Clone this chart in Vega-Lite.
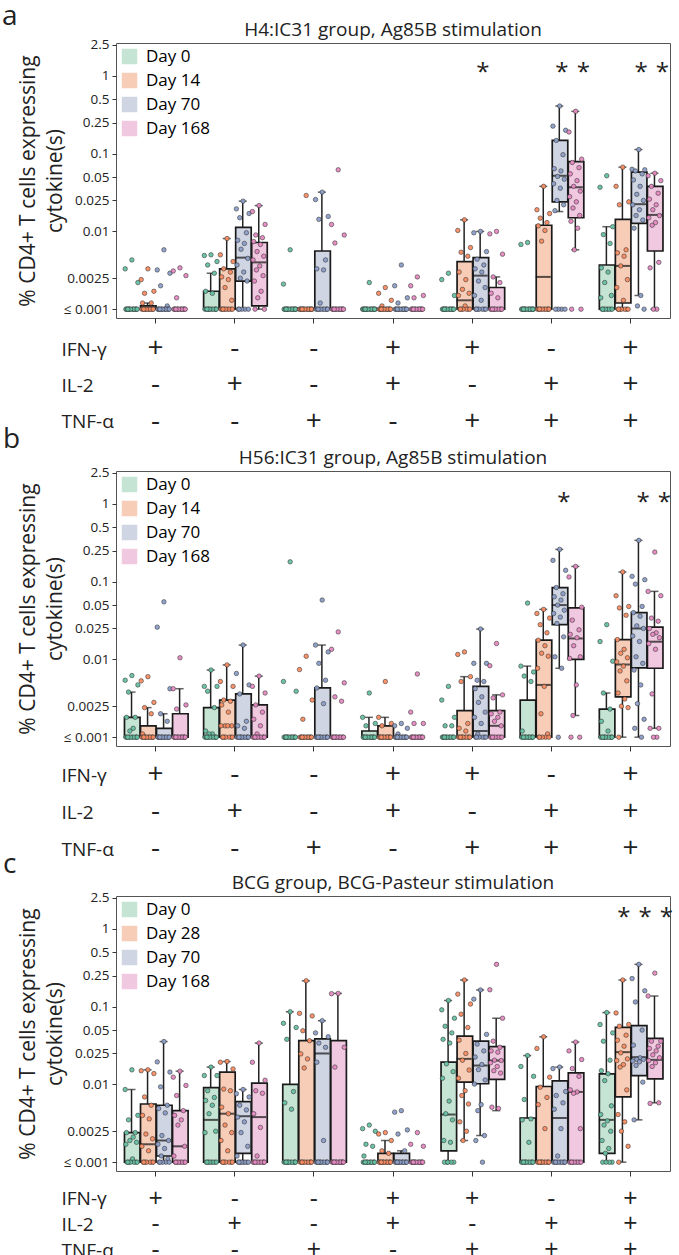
{
"$schema":"https://vega.github.io/schema/vega-lite/v6.json",
"padding":{"left":2,"top":3,"right":4,"bottom":0},
"title":{"text":"a","anchor":"start","frame":"bounds","fontSize":28,"fontWeight":"normal","offset":-11,"dx":-1,"color":"#222"},
"config":{"font":"Open Sans","view":{"stroke":"#555","strokeWidth":1},"axis":{"labelColor":"#222","titleColor":"#222","tickColor":"#333","grid":false},"title":{"color":"#222"}},
"datasets":{
"keys":[
{"d":"Day 0","k":[12,2,21,7,17,4,14,9,19,3,13,8,18,5,15,10,20,6,16,11]},
{"d":"Day 14","k":[36,26,45,31,41,28,38,33,43,27,37,32,42,29,39,34,44,30,40,35]},
{"d":"Day 28","k":[36,26,45,31,41,28,38,33,43,27,37,32,42,29,39,34,44,30,40,35]},
{"d":"Day 70","k":[60,50,69,55,65,52,62,57,67,51,61,56,66,53,63,58,68,54,64,59]},
{"d":"Day 168","k":[84,74,93,79,89,76,86,81,91,75,85,80,90,77,87,82,92,78,88,83]}
],
"tbl":[
{"c":1,"r":"IFN-γ","s":"+"},{"c":1,"r":"IL-2","s":"-"},{"c":1,"r":"TNF-α","s":"-"},
{"c":2,"r":"IFN-γ","s":"-"},{"c":2,"r":"IL-2","s":"+"},{"c":2,"r":"TNF-α","s":"-"},
{"c":3,"r":"IFN-γ","s":"-"},{"c":3,"r":"IL-2","s":"-"},{"c":3,"r":"TNF-α","s":"+"},
{"c":4,"r":"IFN-γ","s":"+"},{"c":4,"r":"IL-2","s":"+"},{"c":4,"r":"TNF-α","s":"-"},
{"c":5,"r":"IFN-γ","s":"+"},{"c":5,"r":"IL-2","s":"-"},{"c":5,"r":"TNF-α","s":"+"},
{"c":6,"r":"IFN-γ","s":"-"},{"c":6,"r":"IL-2","s":"+"},{"c":6,"r":"TNF-α","s":"+"},
{"c":7,"r":"IFN-γ","s":"+"},{"c":7,"r":"IL-2","s":"+"},{"c":7,"r":"TNF-α","s":"+"}
],
"sig":[
{"p":"a","c":5,"d":"Day 70","v":1.08,"s":"*"},{"p":"a","c":6,"d":"Day 70","v":1.08,"s":"*"},{"p":"a","c":6,"d":"Day 168","v":1.08,"s":"*"},{"p":"a","c":7,"d":"Day 70","v":1.08,"s":"*"},{"p":"a","c":7,"d":"Day 168","v":1.08,"s":"*"},
{"p":"b","c":6,"d":"Day 70","v":1.02,"s":"*"},{"p":"b","c":7,"d":"Day 70","v":1.02,"s":"*"},{"p":"b","c":7,"d":"Day 168","v":1.02,"s":"*"},
{"p":"c","c":7,"d":"Day 28","v":1.38,"s":"*"},{"p":"c","c":7,"d":"Day 70","v":1.38,"s":"*"},{"p":"c","c":7,"d":"Day 168","v":1.38,"s":"*"}
],
"ab":[
{"c":1,"d":"Day 14","lo":0.001,"q1":0.001,"md":0.001,"q3":0.0011,"hi":0.0012},
{"c":2,"d":"Day 0","lo":0.001,"q1":0.001,"md":0.001,"q3":0.0017,"hi":0.0029},
{"c":2,"d":"Day 14","lo":0.001,"q1":0.001,"md":0.001,"q3":0.0033,"hi":0.0081},
{"c":2,"d":"Day 70","lo":0.001,"q1":0.0023,"md":0.0046,"q3":0.0113,"hi":0.0245},
{"c":2,"d":"Day 168","lo":0.001,"q1":0.0011,"md":0.004,"q3":0.0072,"hi":0.0215},
{"c":3,"d":"Day 70","lo":0.001,"q1":0.001,"md":0.001,"q3":0.0056,"hi":0.032},
{"c":5,"d":"Day 14","lo":0.001,"q1":0.001,"md":0.0013,"q3":0.0041,"hi":0.0141},
{"c":5,"d":"Day 70","lo":0.001,"q1":0.001,"md":0.0027,"q3":0.0046,"hi":0.01},
{"c":5,"d":"Day 168","lo":0.001,"q1":0.001,"md":0.001,"q3":0.0019,"hi":0.0026},
{"c":6,"d":"Day 14","lo":0.001,"q1":0.001,"md":0.0026,"q3":0.012,"hi":0.038},
{"c":6,"d":"Day 70","lo":0.018,"q1":0.024,"md":0.052,"q3":0.148,"hi":0.41},
{"c":6,"d":"Day 168","lo":0.0058,"q1":0.015,"md":0.037,"q3":0.079,"hi":0.35},
{"c":7,"d":"Day 0","lo":0.001,"q1":0.001,"md":0.001,"q3":0.0037,"hi":0.0115},
{"c":7,"d":"Day 14","lo":0.001,"q1":0.0012,"md":0.0036,"q3":0.0143,"hi":0.067},
{"c":7,"d":"Day 70","lo":0.0015,"q1":0.0127,"md":0.0224,"q3":0.058,"hi":0.113},
{"c":7,"d":"Day 168","lo":0.001,"q1":0.0056,"md":0.0163,"q3":0.038,"hi":0.056}
],
"ap":[
{"c":1,"d":"Day 0","v":[0.0043,0.0033,0.0022,0.001,0.001,0.001,0.001,0.001,0.001,0.001,0.001,0.001,0.001,0.001,0.001,0.001,0.001,0.001]},
{"c":1,"d":"Day 14","v":[0.0033,0.0024,0.0017,0.0016,0.0012,0.0012,0.001,0.001,0.001,0.001,0.001,0.001,0.001,0.001,0.001,0.001,0.001,0.001]},
{"c":1,"d":"Day 70","v":[0.0058,0.0032,0.0029,0.002,0.0011,0.001,0.001,0.001,0.001,0.001,0.001,0.001,0.001,0.001,0.001,0.001,0.001,0.001]},
{"c":1,"d":"Day 168","v":[0.0034,0.0031,0.0027,0.0014,0.001,0.001,0.001,0.001,0.001,0.001,0.001,0.001,0.001,0.001,0.001,0.001,0.001,0.001]},
{"c":2,"d":"Day 0","v":[0.005,0.0049,0.0041,0.0037,0.0029,0.0017,0.0016,0.001,0.001,0.001,0.001,0.001,0.001,0.001,0.001,0.001,0.001,0.001]},
{"c":2,"d":"Day 14","v":[0.0081,0.005,0.0041,0.0033,0.003,0.0026,0.0024,0.0019,0.0013,0.001,0.001,0.001,0.001,0.001,0.001,0.001,0.001,0.001]},
{"c":2,"d":"Day 70","v":[0.0245,0.0195,0.017,0.015,0.0096,0.0077,0.007,0.0059,0.0045,0.0037,0.003,0.0025,0.0023,0.001,0.001,0.001,0.001,0.001]},
{"c":2,"d":"Day 168","v":[0.0215,0.018,0.0123,0.009,0.0083,0.0074,0.0068,0.0055,0.0048,0.0043,0.0036,0.0032,0.0027,0.0023,0.0017,0.0014,0.001,0.001]},
{"c":3,"d":"Day 0","v":[0.0058,0.0021,0.001,0.001,0.001,0.001,0.001,0.001,0.001,0.001,0.001,0.001,0.001,0.001,0.001,0.001,0.001,0.001]},
{"c":3,"d":"Day 14","v":[0.029,0.001,0.001,0.001,0.001,0.001,0.001,0.001,0.001,0.001,0.001,0.001,0.001,0.001,0.001,0.001,0.001,0.001]},
{"c":3,"d":"Day 70","v":[0.032,0.0257,0.0156,0.0143,0.0043,0.0033,0.0032,0.0012,0.001,0.001,0.001,0.001,0.001,0.001,0.001,0.001,0.001,0.001]},
{"c":3,"d":"Day 168","v":[0.062,0.0123,0.009,0.0071,0.001,0.001,0.001,0.001,0.001,0.001,0.001,0.001,0.001,0.001,0.001,0.001,0.001,0.001]},
{"c":4,"d":"Day 0","v":[0.0022,0.001,0.001,0.001,0.001,0.001,0.001,0.001,0.001,0.001,0.001,0.001,0.001,0.001,0.001,0.001,0.001,0.001]},
{"c":4,"d":"Day 14","v":[0.0019,0.0016,0.0013,0.0011,0.001,0.001,0.001,0.001,0.001,0.001,0.001,0.001,0.001,0.001,0.001,0.001,0.001,0.001]},
{"c":4,"d":"Day 70","v":[0.0037,0.002,0.0014,0.0012,0.001,0.001,0.001,0.001,0.001,0.001,0.001,0.001,0.001,0.001,0.001,0.001,0.001,0.001]},
{"c":4,"d":"Day 168","v":[0.0026,0.002,0.0015,0.0014,0.001,0.001,0.001,0.001,0.001,0.001,0.001,0.001,0.001,0.001,0.001,0.001,0.001,0.001]},
{"c":5,"d":"Day 0","v":[0.0029,0.0024,0.0015,0.001,0.001,0.001,0.001,0.001,0.001,0.001,0.001,0.001,0.001,0.001,0.001,0.001,0.001,0.001]},
{"c":5,"d":"Day 14","v":[0.0141,0.0103,0.0062,0.0054,0.0048,0.003,0.0024,0.0018,0.0016,0.0015,0.0011,0.001,0.001,0.001,0.001,0.001,0.001,0.001]},
{"c":5,"d":"Day 70","v":[0.01,0.0096,0.0055,0.0044,0.0037,0.0033,0.003,0.0023,0.0019,0.0015,0.0013,0.001,0.001,0.001,0.001,0.001,0.001,0.001]},
{"c":5,"d":"Day 168","v":[0.01,0.0093,0.0051,0.0026,0.0022,0.0016,0.0014,0.001,0.001,0.001,0.001,0.001,0.001,0.001,0.001,0.001,0.001,0.001]},
{"c":6,"d":"Day 0","v":[0.0072,0.0068,0.001,0.001,0.001,0.001,0.001,0.001,0.001,0.001,0.001,0.001,0.001,0.001,0.001,0.001,0.001,0.001]},
{"c":6,"d":"Day 14","v":[0.038,0.019,0.017,0.0148,0.013,0.0118,0.0103,0.0075,0.001,0.001,0.001,0.001,0.001,0.001,0.001,0.001,0.001,0.001]},
{"c":6,"d":"Day 70","v":[0.41,0.226,0.2,0.148,0.097,0.064,0.06,0.051,0.047,0.041,0.036,0.025,0.022,0.0185,0.001,0.001,0.001,0.001]},
{"c":6,"d":"Day 168","v":[0.35,0.19,0.085,0.077,0.066,0.055,0.045,0.038,0.033,0.028,0.024,0.02,0.016,0.0135,0.011,0.0058,0.001,0.001]},
{"c":7,"d":"Day 0","v":[0.052,0.037,0.0115,0.0091,0.007,0.0034,0.003,0.0022,0.0015,0.0014,0.001,0.001,0.001,0.001,0.001,0.001,0.001,0.001]},
{"c":7,"d":"Day 14","v":[0.067,0.038,0.024,0.022,0.0058,0.0053,0.0048,0.0036,0.0024,0.0019,0.0013,0.001,0.001,0.001,0.001,0.001,0.001,0.001]},
{"c":7,"d":"Day 70","v":[0.113,0.063,0.062,0.06,0.055,0.046,0.038,0.03,0.025,0.022,0.019,0.016,0.014,0.011,0.0015,0.0011,0.001]},
{"c":7,"d":"Day 168","v":[0.056,0.052,0.045,0.038,0.031,0.026,0.022,0.019,0.016,0.015,0.013,0.012,0.004,0.0034,0.001,0.001]}
],
"bb":[
{"c":1,"d":"Day 0","lo":0.001,"q1":0.001,"md":0.001,"q3":0.0018,"hi":0.0038},
{"c":1,"d":"Day 14","lo":0.001,"q1":0.001,"md":0.001,"q3":0.0014,"hi":0.0024},
{"c":1,"d":"Day 70","lo":0.001,"q1":0.001,"md":0.001,"q3":0.0013,"hi":0.002},
{"c":1,"d":"Day 168","lo":0.001,"q1":0.001,"md":0.001,"q3":0.002,"hi":0.0042},
{"c":2,"d":"Day 0","lo":0.001,"q1":0.001,"md":0.001,"q3":0.0024,"hi":0.0073},
{"c":2,"d":"Day 14","lo":0.001,"q1":0.001,"md":0.0014,"q3":0.003,"hi":0.0085},
{"c":2,"d":"Day 70","lo":0.001,"q1":0.001,"md":0.001,"q3":0.0036,"hi":0.0153},
{"c":2,"d":"Day 168","lo":0.001,"q1":0.001,"md":0.001,"q3":0.0026,"hi":0.0061},
{"c":3,"d":"Day 70","lo":0.001,"q1":0.001,"md":0.001,"q3":0.0043,"hi":0.0153},
{"c":4,"d":"Day 0","lo":0.001,"q1":0.001,"md":0.001,"q3":0.0012,"hi":0.0018},
{"c":4,"d":"Day 14","lo":0.001,"q1":0.001,"md":0.001,"q3":0.0014,"hi":0.0018},
{"c":5,"d":"Day 14","lo":0.001,"q1":0.001,"md":0.001,"q3":0.0022,"hi":0.006},
{"c":5,"d":"Day 70","lo":0.001,"q1":0.001,"md":0.0012,"q3":0.0045,"hi":0.0246},
{"c":5,"d":"Day 168","lo":0.001,"q1":0.001,"md":0.0014,"q3":0.0022,"hi":0.0035},
{"c":6,"d":"Day 0","lo":0.001,"q1":0.001,"md":0.001,"q3":0.003,"hi":0.0082},
{"c":6,"d":"Day 14","lo":0.001,"q1":0.001,"md":0.0047,"q3":0.0177,"hi":0.044},
{"c":6,"d":"Day 70","lo":0.0077,"q1":0.028,"md":0.05,"q3":0.084,"hi":0.26},
{"c":6,"d":"Day 168","lo":0.0019,"q1":0.01,"md":0.0186,"q3":0.046,"hi":0.157},
{"c":7,"d":"Day 0","lo":0.001,"q1":0.001,"md":0.001,"q3":0.0023,"hi":0.0037},
{"c":7,"d":"Day 14","lo":0.001,"q1":0.0033,"md":0.0086,"q3":0.018,"hi":0.133},
{"c":7,"d":"Day 70","lo":0.001,"q1":0.0078,"md":0.025,"q3":0.04,"hi":0.34},
{"c":7,"d":"Day 168","lo":0.0013,"q1":0.0077,"md":0.0169,"q3":0.026,"hi":0.075}
],
"bp":[
{"c":1,"d":"Day 0","v":[0.0062,0.0054,0.0047,0.0038,0.0018,0.0018,0.0013,0.0012,0.001,0.001,0.001,0.001,0.001,0.001,0.001,0.001,0.001,0.001]},
{"c":1,"d":"Day 14","v":[0.006,0.0053,0.0028,0.0024,0.002,0.0011,0.001,0.001,0.001,0.001,0.001,0.001,0.001,0.001,0.001,0.001,0.001,0.001]},
{"c":1,"d":"Day 70","v":[0.055,0.026,0.0042,0.002,0.0016,0.001,0.001,0.001,0.001,0.001,0.001,0.001,0.001,0.001,0.001,0.001,0.001,0.001]},
{"c":1,"d":"Day 168","v":[0.0105,0.0042,0.0026,0.0023,0.001,0.001,0.001,0.001,0.001,0.001,0.001,0.001,0.001,0.001,0.001,0.001,0.001,0.001]},
{"c":2,"d":"Day 0","v":[0.0073,0.0045,0.0045,0.0039,0.0024,0.0012,0.0011,0.0011,0.001,0.001,0.001,0.001,0.001,0.001,0.001,0.001,0.001,0.001]},
{"c":2,"d":"Day 14","v":[0.0085,0.0052,0.0045,0.003,0.0029,0.0026,0.0021,0.0014,0.0014,0.0014,0.0014,0.001,0.001,0.001,0.001,0.001,0.001,0.001]},
{"c":2,"d":"Day 70","v":[0.0153,0.0066,0.0047,0.0036,0.0016,0.0014,0.0013,0.001,0.001,0.001,0.001,0.001,0.001,0.001,0.001,0.001,0.001,0.001]},
{"c":2,"d":"Day 168","v":[0.0061,0.0045,0.0037,0.0026,0.0021,0.0017,0.0014,0.0011,0.001,0.001,0.001,0.001,0.001,0.001,0.001,0.001,0.001,0.001]},
{"c":3,"d":"Day 0","v":[0.18,0.0052,0.0039,0.001,0.001,0.001,0.001,0.001,0.001,0.001,0.001,0.001,0.001,0.001,0.001,0.001,0.001,0.001]},
{"c":3,"d":"Day 14","v":[0.011,0.0074,0.003,0.0017,0.001,0.001,0.001,0.001,0.001,0.001,0.001,0.001,0.001,0.001,0.001,0.001,0.001,0.001]},
{"c":3,"d":"Day 70","v":[0.058,0.0153,0.0125,0.0089,0.0054,0.0043,0.0027,0.001,0.001,0.001,0.001,0.001,0.001,0.001,0.001,0.001,0.001,0.001]},
{"c":3,"d":"Day 168","v":[0.0226,0.0135,0.005,0.0033,0.0029,0.001,0.001,0.001,0.001,0.001,0.001,0.001,0.001,0.001,0.001,0.001,0.001,0.001]},
{"c":4,"d":"Day 0","v":[0.0037,0.0018,0.0015,0.0014,0.001,0.001,0.001,0.001,0.001,0.001,0.001,0.001,0.001,0.001,0.001,0.001,0.001,0.001]},
{"c":4,"d":"Day 14","v":[0.0052,0.0018,0.0015,0.0014,0.001,0.001,0.001,0.001,0.001,0.001,0.001,0.001,0.001,0.001,0.001,0.001,0.001,0.001]},
{"c":4,"d":"Day 70","v":[0.0015,0.0014,0.0013,0.0011,0.001,0.001,0.001,0.001,0.001,0.001,0.001,0.001,0.001,0.001,0.001,0.001,0.001,0.001]},
{"c":4,"d":"Day 168","v":[0.0065,0.0021,0.0015,0.0015,0.001,0.001,0.001,0.001,0.001,0.001,0.001,0.001,0.001,0.001,0.001,0.001,0.001,0.001]},
{"c":5,"d":"Day 0","v":[0.0045,0.003,0.0018,0.0014,0.0014,0.001,0.001,0.001,0.001,0.001,0.001,0.001,0.001,0.001,0.001,0.001,0.001,0.001]},
{"c":5,"d":"Day 14","v":[0.0125,0.0116,0.006,0.0052,0.0015,0.0013,0.0012,0.001,0.001,0.001,0.001,0.001,0.001,0.001,0.001,0.001,0.001,0.001]},
{"c":5,"d":"Day 70","v":[0.0246,0.0089,0.0089,0.0054,0.0052,0.0042,0.0033,0.0028,0.0021,0.0018,0.0015,0.0011,0.001,0.001,0.001,0.001,0.001,0.001]},
{"c":5,"d":"Day 168","v":[0.016,0.0083,0.0035,0.0032,0.0021,0.002,0.0018,0.0016,0.0014,0.001,0.001,0.001,0.001,0.001,0.001,0.001,0.001,0.001]},
{"c":6,"d":"Day 0","v":[0.053,0.0082,0.0069,0.0061,0.0052,0.0012,0.001,0.001,0.001,0.001,0.001,0.001,0.001,0.001,0.001,0.001,0.001,0.001]},
{"c":6,"d":"Day 14","v":[0.044,0.039,0.034,0.028,0.022,0.0177,0.015,0.012,0.011,0.0077,0.0045,0.002,0.0011,0.001,0.001,0.001,0.001,0.001]},
{"c":6,"d":"Day 70","v":[0.26,0.188,0.14,0.084,0.07,0.064,0.058,0.05,0.043,0.039,0.035,0.029,0.0195,0.0108,0.0077,0.001]},
{"c":6,"d":"Day 168","v":[0.157,0.115,0.047,0.032,0.024,0.021,0.019,0.015,0.0108,0.0103,0.0047,0.0019,0.001,0.001]},
{"c":7,"d":"Day 0","v":[0.028,0.017,0.0095,0.0037,0.0023,0.0016,0.0012,0.001,0.001,0.001,0.001,0.001,0.001,0.001,0.001,0.001,0.001,0.001]},
{"c":7,"d":"Day 14","v":[0.133,0.066,0.048,0.046,0.037,0.018,0.0135,0.012,0.0105,0.0093,0.0082,0.0071,0.0053,0.0037,0.0031,0.0025,0.0024,0.001]},
{"c":7,"d":"Day 70","v":[0.34,0.117,0.106,0.093,0.048,0.04,0.036,0.027,0.025,0.02,0.017,0.0108,0.0089,0.0073,0.0047,0.0027,0.0017,0.0013,0.001]},
{"c":7,"d":"Day 168","v":[0.24,0.075,0.066,0.034,0.031,0.025,0.022,0.021,0.019,0.016,0.0135,0.0036,0.0013,0.0013,0.001,0.001]}
],
"cb":[
{"c":1,"d":"Day 0","lo":0.001,"q1":0.001,"md":0.001,"q3":0.0024,"hi":0.0086},
{"c":1,"d":"Day 28","lo":0.001,"q1":0.001,"md":0.0017,"q3":0.0056,"hi":0.0154},
{"c":1,"d":"Day 70","lo":0.001,"q1":0.0012,"md":0.0019,"q3":0.0054,"hi":0.0356},
{"c":1,"d":"Day 168","lo":0.001,"q1":0.001,"md":0.0016,"q3":0.0046,"hi":0.0148},
{"c":2,"d":"Day 0","lo":0.001,"q1":0.001,"md":0.0035,"q3":0.0091,"hi":0.0167},
{"c":2,"d":"Day 28","lo":0.001,"q1":0.001,"md":0.0042,"q3":0.0144,"hi":0.0197},
{"c":2,"d":"Day 70","lo":0.001,"q1":0.0013,"md":0.0039,"q3":0.006,"hi":0.0086},
{"c":2,"d":"Day 168","lo":0.001,"q1":0.001,"md":0.0038,"q3":0.0104,"hi":0.034},
{"c":3,"d":"Day 0","lo":0.001,"q1":0.001,"md":0.001,"q3":0.01,"hi":0.086},
{"c":3,"d":"Day 28","lo":0.001,"q1":0.001,"md":0.001,"q3":0.0365,"hi":0.215},
{"c":3,"d":"Day 70","lo":0.001,"q1":0.001,"md":0.025,"q3":0.0385,"hi":0.066},
{"c":3,"d":"Day 168","lo":0.001,"q1":0.001,"md":0.001,"q3":0.0365,"hi":0.148},
{"c":4,"d":"Day 28","lo":0.001,"q1":0.001,"md":0.001,"q3":0.0013,"hi":0.0019},
{"c":4,"d":"Day 70","lo":0.001,"q1":0.001,"md":0.001,"q3":0.0013,"hi":0.0014},
{"c":5,"d":"Day 0","lo":0.001,"q1":0.0014,"md":0.0041,"q3":0.0193,"hi":0.12},
{"c":5,"d":"Day 28","lo":0.0019,"q1":0.0107,"md":0.0213,"q3":0.0417,"hi":0.22},
{"c":5,"d":"Day 70","lo":0.0022,"q1":0.0102,"md":0.0175,"q3":0.036,"hi":0.164},
{"c":5,"d":"Day 168","lo":0.0046,"q1":0.0116,"md":0.0203,"q3":0.0306,"hi":0.071},
{"c":6,"d":"Day 0","lo":0.001,"q1":0.001,"md":0.001,"q3":0.0037,"hi":0.0235},
{"c":6,"d":"Day 28","lo":0.001,"q1":0.001,"md":0.001,"q3":0.0094,"hi":0.041},
{"c":6,"d":"Day 70","lo":0.001,"q1":0.001,"md":0.0037,"q3":0.0111,"hi":0.0167},
{"c":6,"d":"Day 168","lo":0.001,"q1":0.001,"md":0.008,"q3":0.0141,"hi":0.035},
{"c":7,"d":"Day 0","lo":0.001,"q1":0.0013,"md":0.0035,"q3":0.0137,"hi":0.084},
{"c":7,"d":"Day 28","lo":0.001,"q1":0.0069,"md":0.026,"q3":0.054,"hi":0.22},
{"c":7,"d":"Day 70","lo":0.0035,"q1":0.013,"md":0.0224,"q3":0.057,"hi":0.35},
{"c":7,"d":"Day 168","lo":0.0058,"q1":0.0118,"md":0.0207,"q3":0.039,"hi":0.137}
],
"cp":[
{"c":1,"d":"Day 0","v":[0.0154,0.0086,0.004,0.0035,0.0024,0.0024,0.0021,0.0019,0.0018,0.0017,0.0011,0.001,0.001,0.001,0.001,0.001,0.001,0.001]},
{"c":1,"d":"Day 28","v":[0.0154,0.015,0.0138,0.0069,0.0054,0.004,0.0036,0.0023,0.002,0.0016,0.0014,0.001,0.001,0.001,0.001,0.001,0.001,0.001]},
{"c":1,"d":"Day 70","v":[0.0356,0.0195,0.0144,0.0093,0.0054,0.0049,0.0043,0.0022,0.0019,0.0017,0.0015,0.0012,0.0011,0.001,0.001,0.001,0.001,0.001]},
{"c":1,"d":"Day 168","v":[0.0148,0.0124,0.0097,0.0072,0.0046,0.004,0.0035,0.003,0.0016,0.0012,0.001,0.001,0.001,0.001,0.001,0.001,0.001,0.001]},
{"c":2,"d":"Day 0","v":[0.0167,0.013,0.013,0.0083,0.0068,0.0062,0.0054,0.0042,0.0025,0.0024,0.001,0.001,0.001,0.001,0.001,0.001,0.001,0.001]},
{"c":2,"d":"Day 28","v":[0.0197,0.0193,0.0158,0.0087,0.0083,0.0051,0.0042,0.003,0.0024,0.0019,0.0014,0.001,0.001,0.001,0.001,0.001,0.001,0.001]},
{"c":2,"d":"Day 70","v":[0.0086,0.0076,0.0069,0.0054,0.0047,0.0038,0.0033,0.0024,0.0016,0.0012,0.001,0.001,0.001,0.001,0.001,0.001,0.001,0.001]},
{"c":2,"d":"Day 168","v":[0.034,0.0193,0.0113,0.0083,0.0077,0.0042,0.0028,0.0012,0.001,0.001,0.001,0.001,0.001,0.001,0.001,0.001,0.001,0.001]},
{"c":3,"d":"Day 0","v":[0.086,0.061,0.054,0.038,0.0081,0.0058,0.0048,0.001,0.001,0.001,0.001,0.001,0.001,0.001,0.001,0.001,0.001,0.001]},
{"c":3,"d":"Day 28","v":[0.215,0.082,0.076,0.049,0.0365,0.0247,0.0213,0.0163,0.001,0.001,0.001,0.001,0.001,0.001,0.001,0.001,0.001,0.001]},
{"c":3,"d":"Day 70","v":[0.066,0.046,0.041,0.034,0.03,0.0193,0.0019,0.001,0.001,0.001,0.001,0.001,0.001,0.001,0.001,0.001,0.001,0.001]},
{"c":3,"d":"Day 168","v":[0.148,0.147,0.03,0.0167,0.001,0.001,0.001,0.001,0.001,0.001,0.001,0.001,0.001,0.001,0.001,0.001,0.001,0.001]},
{"c":4,"d":"Day 0","v":[0.003,0.0027,0.0025,0.0017,0.0016,0.0012,0.001,0.001,0.001,0.001,0.001,0.001,0.001,0.001,0.001,0.001,0.001,0.001]},
{"c":4,"d":"Day 28","v":[0.0024,0.0023,0.0019,0.0014,0.0013,0.001,0.001,0.001,0.001,0.001,0.001,0.001,0.001,0.001,0.001,0.001,0.001,0.001]},
{"c":4,"d":"Day 70","v":[0.0046,0.0044,0.0026,0.0023,0.0014,0.001,0.001,0.001,0.001,0.001,0.001,0.001,0.001,0.001,0.001,0.001,0.001,0.001]},
{"c":4,"d":"Day 168","v":[0.0024,0.0017,0.0016,0.001,0.001,0.001,0.001,0.001,0.001,0.001,0.001,0.001,0.001,0.001,0.001,0.001,0.001,0.001]},
{"c":5,"d":"Day 0","v":[0.12,0.091,0.071,0.056,0.046,0.038,0.034,0.0184,0.0146,0.012,0.0061,0.0042,0.0035,0.0019,0.0018,0.001,0.001,0.001,0.001,0.001]},
{"c":5,"d":"Day 28","v":[0.22,0.145,0.108,0.08,0.054,0.037,0.025,0.0205,0.0153,0.012,0.0083,0.0072,0.0056,0.0033,0.0025,0.0019]},
{"c":5,"d":"Day 70","v":[0.164,0.125,0.044,0.033,0.027,0.0225,0.018,0.0155,0.0114,0.0101,0.0055,0.0046,0.0022,0.0019,0.001]},
{"c":5,"d":"Day 168","v":[0.35,0.165,0.071,0.036,0.03,0.027,0.026,0.0205,0.0203,0.019,0.017,0.015,0.014,0.0051,0.0049]},
{"c":6,"d":"Day 0","v":[0.0235,0.017,0.0127,0.0064,0.0036,0.0035,0.0018,0.001,0.001,0.001,0.001,0.001,0.001,0.001,0.001,0.001,0.001,0.001]},
{"c":6,"d":"Day 28","v":[0.041,0.029,0.0124,0.0092,0.0068,0.0055,0.0027,0.001,0.001,0.001,0.001,0.001,0.001,0.001,0.001,0.001,0.001,0.001]},
{"c":6,"d":"Day 70","v":[0.0167,0.016,0.0081,0.0072,0.0058,0.0048,0.0027,0.0012,0.001,0.001,0.001,0.001,0.001,0.001,0.001,0.001,0.001,0.001]},
{"c":6,"d":"Day 168","v":[0.035,0.027,0.0209,0.016,0.0127,0.0085,0.008,0.0077,0.0027,0.001,0.001,0.001,0.001,0.001,0.001,0.001,0.001,0.001]},
{"c":7,"d":"Day 0","v":[0.084,0.059,0.046,0.036,0.0205,0.015,0.0137,0.0112,0.0053,0.0041,0.0034,0.003,0.0025,0.0019,0.0015,0.0013,0.001,0.001,0.001,0.001]},
{"c":7,"d":"Day 28","v":[0.22,0.083,0.059,0.056,0.043,0.037,0.031,0.0255,0.0213,0.0203,0.018,0.0167,0.0085,0.0041,0.0033,0.0025,0.0016,0.001]},
{"c":7,"d":"Day 70","v":[0.35,0.23,0.16,0.115,0.05,0.032,0.022,0.021,0.021,0.02,0.0195,0.0175,0.0107,0.0035]},
{"c":7,"d":"Day 168","v":[0.27,0.137,0.036,0.036,0.031,0.029,0.027,0.024,0.022,0.0203,0.019,0.017,0.0058,0.0057]}
]
},
"vconcat":[
  {"width":554,"height":275,
   "title":{"text":"H4:IC31 group, Ag85B stimulation","fontSize":19,"fontWeight":"normal","offset":-2},
   "layer":[
    {"data":{"name":"ab"},"mark":{"type":"rule","color":"#222","strokeWidth":1.5},
     "encoding":{"x":{"field":"c","type":"ordinal","scale":{"paddingInner":0.19,"paddingOuter":0.095},"axis":{"labels":false,"title":null,"domain":false,"tickSize":5,"tickColor":"#333"}},"xOffset":{"field":"d","type":"nominal","scale":{"domain":["Day 0","Day 14","Day 70","Day 168"],"paddingInner":0,"paddingOuter":0}},"y":{"field":"lo","type":"quantitative","scale":{"type":"log","domain":[0.00077,2.65],"nice":false},"axis":{"title":["% CD4+ T cells expressing","cytokine(s)"],"titleFontSize":21,"titleFontWeight":"normal","titleLineHeight":27,"titlePadding":-2,"values":[0.001,0.0025,0.01,0.025,0.05,0.1,0.25,0.5,1,2.5],"labelExpr":"datum.value < 0.0015 ? '≤ 0.001' : format(datum.value, '~g')","labelFontSize":13.5,"tickSize":4,"domain":false,"labelPadding":3}},"y2":{"field":"hi"}}},
    {"data":{"name":"ab"},"mark":{"type":"bar","stroke":"#1a1a1a","strokeWidth":1.7,"width":{"band":0.97}},
     "encoding":{"x":{"field":"c","type":"ordinal"},"xOffset":{"field":"d","type":"nominal","scale":{"domain":["Day 0","Day 14","Day 70","Day 168"],"paddingInner":0,"paddingOuter":0}},
      "y":{"field":"q1","type":"quantitative"},
      "y2":{"field":"q3"},
      "fill":{"field":"d","type":"nominal","scale":{"domain":["Day 0","Day 14","Day 70","Day 168"],"range":["#c6e4d4","#f7cdb8","#d0d5e4","#f0c9e1"]},"legend":{"orient":"top-left","title":null,"symbolType":"square","symbolSize":240,"symbolStrokeWidth":0,"symbolOpacity":1,"labelFontSize":17,"rowPadding":6,"labelOffset":8,"offset":5,"padding":0}}}},
    {"data":{"name":"ab"},"mark":{"type":"tick","color":"#111","thickness":2,"size":15},
     "encoding":{"x":{"field":"c","type":"ordinal"},"xOffset":{"field":"d","type":"nominal","scale":{"domain":["Day 0","Day 14","Day 70","Day 168"],"paddingInner":0,"paddingOuter":0}},"y":{"field":"md","type":"quantitative"}}},
    {"data":{"name":"ab"},"mark":{"type":"tick","color":"#222","thickness":1.5,"size":8},
     "encoding":{"x":{"field":"c","type":"ordinal"},"xOffset":{"field":"d","type":"nominal","scale":{"domain":["Day 0","Day 14","Day 70","Day 168"],"paddingInner":0,"paddingOuter":0}},"y":{"field":"hi","type":"quantitative"}}},
    {"data":{"name":"ab"},"mark":{"type":"tick","color":"#222","thickness":1.5,"size":8},
     "encoding":{"x":{"field":"c","type":"ordinal"},"xOffset":{"field":"d","type":"nominal","scale":{"domain":["Day 0","Day 14","Day 70","Day 168"],"paddingInner":0,"paddingOuter":0}},"y":{"field":"lo","type":"quantitative"}}},
    {"data":{"name":"ap"},"transform":[{"lookup":"d","from":{"data":{"name":"keys"},"key":"d","fields":["k"]}},{"flatten":["v","k"],"as":["val","slot"]},{"filter":"datum.val != null"}],
     "mark":{"type":"circle","size":20,"stroke":"#333","strokeWidth":0.6,"opacity":0.95},
     "encoding":{"x":{"field":"c","type":"ordinal"},"xOffset":{"field":"slot","type":"quantitative","scale":{"domain":[-0.5,95.5]}},"y":{"field":"val","type":"quantitative"},"color":{"field":"d","type":"nominal","scale":{"domain":["Day 0","Day 14","Day 70","Day 168"],"range":["#66c2a5","#fc8d62","#8da0cb","#e78ac3"]},"legend":null}}},
    {"data":{"name":"sig"},"transform":[{"filter":"datum.p == 'a'"}],"mark":{"type":"text","fontSize":24,"baseline":"middle","color":"#222"},
     "encoding":{"x":{"field":"c","type":"ordinal"},"xOffset":{"field":"d","type":"nominal","scale":{"domain":["Day 0","Day 14","Day 70","Day 168"],"paddingInner":0,"paddingOuter":0}},"y":{"field":"v","type":"quantitative"},"text":{"field":"s"}}}
   ],
   "resolve":{"scale":{"xOffset":"independent"}}
  },
  {"data":{"name":"tbl"},"width":554,"height":133,"view":{"stroke":null},
   "title":{"text":"b","orient":"bottom","anchor":"start","frame":"group","fontSize":28,"fontWeight":"normal","baseline":"alphabetic","dx":-113,"offset":-13},
   "mark":{"type":"text","fontSize":28,"color":"#222"},
   "encoding":{"x":{"field":"c","type":"ordinal","scale":{"paddingInner":0.19,"paddingOuter":0.095},"axis":null},
    "y":{"field":"r","type":"nominal","sort":["IFN-γ","IL-2","TNF-α"],"scale":{"type":"point","padding":0.822,"align":0.35},"axis":{"title":null,"domain":false,"ticks":false,"labelAlign":"left","labelPadding":55,"labelFontSize":19}},
    "text":{"field":"s"}}},
  {"width":554,"height":275,
   "title":{"text":"H56:IC31 group, Ag85B stimulation","fontSize":19,"fontWeight":"normal","offset":-2},
   "layer":[
    {"data":{"name":"bb"},"mark":{"type":"rule","color":"#222","strokeWidth":1.5},
     "encoding":{"x":{"field":"c","type":"ordinal","scale":{"paddingInner":0.19,"paddingOuter":0.095},"axis":{"labels":false,"title":null,"domain":false,"tickSize":5,"tickColor":"#333"}},"xOffset":{"field":"d","type":"nominal","scale":{"domain":["Day 0","Day 14","Day 70","Day 168"],"paddingInner":0,"paddingOuter":0}},"y":{"field":"lo","type":"quantitative","scale":{"type":"log","domain":[0.00077,2.65],"nice":false},"axis":{"title":["% CD4+ T cells expressing","cytokine(s)"],"titleFontSize":21,"titleFontWeight":"normal","titleLineHeight":27,"titlePadding":-2,"values":[0.001,0.0025,0.01,0.025,0.05,0.1,0.25,0.5,1,2.5],"labelExpr":"datum.value < 0.0015 ? '≤ 0.001' : format(datum.value, '~g')","labelFontSize":13.5,"tickSize":4,"domain":false,"labelPadding":3}},"y2":{"field":"hi"}}},
    {"data":{"name":"bb"},"mark":{"type":"bar","stroke":"#1a1a1a","strokeWidth":1.7,"width":{"band":0.97}},
     "encoding":{"x":{"field":"c","type":"ordinal"},"xOffset":{"field":"d","type":"nominal","scale":{"domain":["Day 0","Day 14","Day 70","Day 168"],"paddingInner":0,"paddingOuter":0}},
      "y":{"field":"q1","type":"quantitative"},
      "y2":{"field":"q3"},
      "fill":{"field":"d","type":"nominal","scale":{"domain":["Day 0","Day 14","Day 70","Day 168"],"range":["#c6e4d4","#f7cdb8","#d0d5e4","#f0c9e1"]},"legend":{"orient":"top-left","title":null,"symbolType":"square","symbolSize":240,"symbolStrokeWidth":0,"symbolOpacity":1,"labelFontSize":17,"rowPadding":6,"labelOffset":8,"offset":5,"padding":0}}}},
    {"data":{"name":"bb"},"mark":{"type":"tick","color":"#111","thickness":2,"size":15},
     "encoding":{"x":{"field":"c","type":"ordinal"},"xOffset":{"field":"d","type":"nominal","scale":{"domain":["Day 0","Day 14","Day 70","Day 168"],"paddingInner":0,"paddingOuter":0}},"y":{"field":"md","type":"quantitative"}}},
    {"data":{"name":"bb"},"mark":{"type":"tick","color":"#222","thickness":1.5,"size":8},
     "encoding":{"x":{"field":"c","type":"ordinal"},"xOffset":{"field":"d","type":"nominal","scale":{"domain":["Day 0","Day 14","Day 70","Day 168"],"paddingInner":0,"paddingOuter":0}},"y":{"field":"hi","type":"quantitative"}}},
    {"data":{"name":"bb"},"mark":{"type":"tick","color":"#222","thickness":1.5,"size":8},
     "encoding":{"x":{"field":"c","type":"ordinal"},"xOffset":{"field":"d","type":"nominal","scale":{"domain":["Day 0","Day 14","Day 70","Day 168"],"paddingInner":0,"paddingOuter":0}},"y":{"field":"lo","type":"quantitative"}}},
    {"data":{"name":"bp"},"transform":[{"lookup":"d","from":{"data":{"name":"keys"},"key":"d","fields":["k"]}},{"flatten":["v","k"],"as":["val","slot"]},{"filter":"datum.val != null"}],
     "mark":{"type":"circle","size":20,"stroke":"#333","strokeWidth":0.6,"opacity":0.95},
     "encoding":{"x":{"field":"c","type":"ordinal"},"xOffset":{"field":"slot","type":"quantitative","scale":{"domain":[-0.5,95.5]}},"y":{"field":"val","type":"quantitative"},"color":{"field":"d","type":"nominal","scale":{"domain":["Day 0","Day 14","Day 70","Day 168"],"range":["#66c2a5","#fc8d62","#8da0cb","#e78ac3"]},"legend":null}}},
    {"data":{"name":"sig"},"transform":[{"filter":"datum.p == 'b'"}],"mark":{"type":"text","fontSize":24,"baseline":"middle","color":"#222","dx":2},
     "encoding":{"x":{"field":"c","type":"ordinal"},"xOffset":{"field":"d","type":"nominal","scale":{"domain":["Day 0","Day 14","Day 70","Day 168"],"paddingInner":0,"paddingOuter":0}},"y":{"field":"v","type":"quantitative"},"text":{"field":"s"}}}
   ],
   "resolve":{"scale":{"xOffset":"independent"}}
  },
  {"data":{"name":"tbl"},"width":554,"height":130,"view":{"stroke":null},
   "title":{"text":"c","orient":"bottom","anchor":"start","frame":"group","fontSize":28,"fontWeight":"normal","baseline":"alphabetic","dx":-113,"offset":-13},
   "mark":{"type":"text","fontSize":28,"color":"#222"},
   "encoding":{"x":{"field":"c","type":"ordinal","scale":{"paddingInner":0.19,"paddingOuter":0.095},"axis":null},
    "y":{"field":"r","type":"nominal","sort":["IFN-γ","IL-2","TNF-α"],"scale":{"type":"point","padding":0.757,"align":0.34},"axis":{"title":null,"domain":false,"ticks":false,"labelAlign":"left","labelPadding":55,"labelFontSize":19}},
    "text":{"field":"s"}}},
  {"width":554,"height":275,
   "title":{"text":"BCG group, BCG-Pasteur stimulation","fontSize":19,"fontWeight":"normal","offset":-2},
   "layer":[
    {"data":{"name":"cb"},"mark":{"type":"rule","color":"#222","strokeWidth":1.5},
     "encoding":{"x":{"field":"c","type":"ordinal","scale":{"paddingInner":0.19,"paddingOuter":0.095},"axis":{"labels":false,"title":null,"domain":false,"tickSize":5,"tickColor":"#333"}},"xOffset":{"field":"d","type":"nominal","scale":{"domain":["Day 0","Day 28","Day 70","Day 168"],"paddingInner":0,"paddingOuter":0}},"y":{"field":"lo","type":"quantitative","scale":{"type":"log","domain":[0.00077,2.65],"nice":false},"axis":{"title":["% CD4+ T cells expressing","cytokine(s)"],"titleFontSize":21,"titleFontWeight":"normal","titleLineHeight":27,"titlePadding":-2,"values":[0.001,0.0025,0.01,0.025,0.05,0.1,0.25,0.5,1,2.5],"labelExpr":"datum.value < 0.0015 ? '≤ 0.001' : format(datum.value, '~g')","labelFontSize":13.5,"tickSize":4,"domain":false,"labelPadding":3}},"y2":{"field":"hi"}}},
    {"data":{"name":"cb"},"mark":{"type":"bar","stroke":"#1a1a1a","strokeWidth":1.7,"width":{"band":0.97}},
     "encoding":{"x":{"field":"c","type":"ordinal"},"xOffset":{"field":"d","type":"nominal","scale":{"domain":["Day 0","Day 28","Day 70","Day 168"],"paddingInner":0,"paddingOuter":0}},
      "y":{"field":"q1","type":"quantitative"},
      "y2":{"field":"q3"},
      "fill":{"field":"d","type":"nominal","scale":{"domain":["Day 0","Day 28","Day 70","Day 168"],"range":["#c6e4d4","#f7cdb8","#d0d5e4","#f0c9e1"]},"legend":{"orient":"top-left","title":null,"symbolType":"square","symbolSize":240,"symbolStrokeWidth":0,"symbolOpacity":1,"labelFontSize":17,"rowPadding":6,"labelOffset":8,"offset":5,"padding":0}}}},
    {"data":{"name":"cb"},"mark":{"type":"tick","color":"#111","thickness":2,"size":15},
     "encoding":{"x":{"field":"c","type":"ordinal"},"xOffset":{"field":"d","type":"nominal","scale":{"domain":["Day 0","Day 28","Day 70","Day 168"],"paddingInner":0,"paddingOuter":0}},"y":{"field":"md","type":"quantitative"}}},
    {"data":{"name":"cb"},"mark":{"type":"tick","color":"#222","thickness":1.5,"size":8},
     "encoding":{"x":{"field":"c","type":"ordinal"},"xOffset":{"field":"d","type":"nominal","scale":{"domain":["Day 0","Day 28","Day 70","Day 168"],"paddingInner":0,"paddingOuter":0}},"y":{"field":"hi","type":"quantitative"}}},
    {"data":{"name":"cb"},"mark":{"type":"tick","color":"#222","thickness":1.5,"size":8},
     "encoding":{"x":{"field":"c","type":"ordinal"},"xOffset":{"field":"d","type":"nominal","scale":{"domain":["Day 0","Day 28","Day 70","Day 168"],"paddingInner":0,"paddingOuter":0}},"y":{"field":"lo","type":"quantitative"}}},
    {"data":{"name":"cp"},"transform":[{"lookup":"d","from":{"data":{"name":"keys"},"key":"d","fields":["k"]}},{"flatten":["v","k"],"as":["val","slot"]},{"filter":"datum.val != null"}],
     "mark":{"type":"circle","size":20,"stroke":"#333","strokeWidth":0.6,"opacity":0.95},
     "encoding":{"x":{"field":"c","type":"ordinal"},"xOffset":{"field":"slot","type":"quantitative","scale":{"domain":[-0.5,95.5]}},"y":{"field":"val","type":"quantitative"},"color":{"field":"d","type":"nominal","scale":{"domain":["Day 0","Day 28","Day 70","Day 168"],"range":["#66c2a5","#fc8d62","#8da0cb","#e78ac3"]},"legend":null}}},
    {"data":{"name":"sig"},"transform":[{"filter":"datum.p == 'c'"}],"mark":{"type":"text","fontSize":24,"baseline":"middle","color":"#222","dx":4},
     "encoding":{"x":{"field":"c","type":"ordinal"},"xOffset":{"field":"d","type":"nominal","scale":{"domain":["Day 0","Day 28","Day 70","Day 168"],"paddingInner":0,"paddingOuter":0}},"y":{"field":"v","type":"quantitative"},"text":{"field":"s"}}}
   ],
   "resolve":{"scale":{"xOffset":"independent"}}
  },
  {"data":{"name":"tbl"},"width":554,"height":76,"view":{"stroke":null},
   "mark":{"type":"text","fontSize":25,"color":"#222"},
   "encoding":{"x":{"field":"c","type":"ordinal","scale":{"paddingInner":0.19,"paddingOuter":0.095},"axis":null},
    "y":{"field":"r","type":"nominal","sort":["IFN-γ","IL-2","TNF-α"],"scale":{"type":"point","padding":0.49,"align":0.72},"axis":{"title":null,"domain":false,"ticks":false,"labelAlign":"left","labelPadding":55,"labelFontSize":19}},
    "text":{"field":"s"}}}
],
"spacing":10,
"bounds":"flush",
"resolve":{"scale":{"x":"independent","y":"independent","fill":"independent","color":"independent","xOffset":"independent"},"legend":{"fill":"independent"}}
}
